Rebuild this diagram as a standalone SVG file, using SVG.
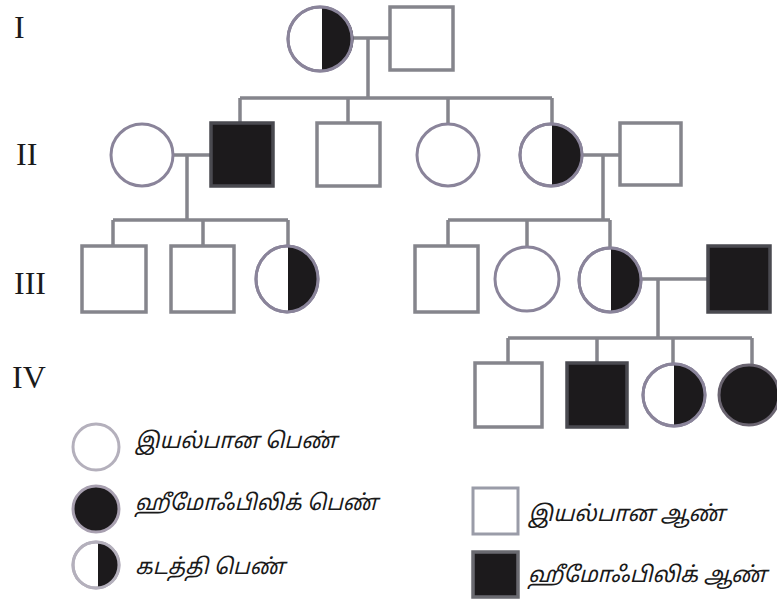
<svg xmlns="http://www.w3.org/2000/svg" width="777" height="599" viewBox="0 0 777 599">
<style>
.ln{stroke:#85858c;stroke-width:3.5;fill:none}
.sq{fill:#ffffff;stroke:#85858c;stroke-width:3.5}
.sqf{fill:#1c1a1c;stroke:#4a4a50;stroke-width:3.5}
.ci{fill:#ffffff;stroke:#8a849a;stroke-width:3}
.cif{fill:#1c1a1c;stroke:#6a6470;stroke-width:3}
.half{fill:#1c1a1c}
.ring{fill:none;stroke:#8a849a;stroke-width:3}
.lci{fill:#ffffff;stroke:#b4b0bc;stroke-width:3}
.lring{fill:none;stroke:#b4b0bc;stroke-width:3}
.lsq{fill:#ffffff;stroke:#9a9ca8;stroke-width:3}
.gen{font-family:"Liberation Serif",serif;font-size:32px;fill:#1a1a1a}
.lbl{font-family:"Noto Sans Tamil","Noto Sans","DejaVu Sans",sans-serif;font-style:italic;font-size:22px;fill:#1a1a1a}
</style>
<rect width="777" height="599" fill="#ffffff"/>
<g id="generation-labels">
<text class="gen" x="14" y="38">I</text>
<text class="gen" x="16" y="165">II</text>
<text class="gen" x="14" y="294">III</text>
<text class="gen" x="12" y="388">IV</text>
</g>
<g id="connectors">
<path class="ln" d="M352 38H390M368 38V98M240 98H552M240 98V123M348 98V123M448 98V124M552 98V124"/>
<path class="ln" d="M173 155H211M187 155V220M113 220H288M113 220V246M203 220V246M288 220V247"/>
<path class="ln" d="M582 155H620M603 155V220M448 220H610M448 220V246M527 220V247M610 220V248"/>
<path class="ln" d="M641 279H708M658 279V338M508 338H752M508 338V363M597 338V363M673 338V364M752 338V365"/>
</g>
<g id="I-1"><circle class="ci" cx="320" cy="39" r="32"/><path class="half" d="M322 7.5A31.5 31.5 0 0 1 322 70.5Z"/><circle class="ring" cx="320" cy="39" r="32"/></g>
<g id="I-2"><rect class="sq" x="390" y="7" width="63" height="63"/></g>
<g id="II-1"><circle class="ci" cx="142" cy="155" r="31"/></g>
<g id="II-2"><rect class="sqf" x="211" y="123" width="62" height="63"/></g>
<g id="II-3"><rect class="sq" x="317" y="123" width="63" height="63"/></g>
<g id="II-4"><circle class="ci" cx="448" cy="155" r="31"/></g>
<g id="II-5"><circle class="ci" cx="551" cy="155" r="31"/><path class="half" d="M552 124.5A30.5 30.5 0 0 1 552 185.5Z"/><circle class="ring" cx="551" cy="155" r="31"/></g>
<g id="II-6"><rect class="sq" x="620" y="123" width="61" height="62"/></g>
<g id="III-1"><rect class="sq" x="82" y="246" width="64" height="66"/></g>
<g id="III-2"><rect class="sq" x="171" y="246" width="63" height="66"/></g>
<g id="III-3"><ellipse class="ci" cx="287" cy="279" rx="31" ry="33"/><path class="half" d="M288 246.5A30.5 32.5 0 0 1 288 311.5Z"/><ellipse class="ring" cx="287" cy="279" rx="31" ry="33"/></g>
<g id="III-4"><rect class="sq" x="415" y="246" width="63" height="66"/></g>
<g id="III-5"><ellipse class="ci" cx="527" cy="279" rx="32" ry="32"/></g>
<g id="III-6"><ellipse class="ci" cx="610" cy="280" rx="31" ry="32"/><path class="half" d="M611 248.5A30.5 31.5 0 0 1 611 311.5Z"/><ellipse class="ring" cx="610" cy="280" rx="31" ry="32"/></g>
<g id="III-7"><rect class="sqf" x="708" y="246" width="62" height="66"/></g>
<g id="IV-1"><rect class="sq" x="475" y="363" width="67" height="64"/></g>
<g id="IV-2"><rect class="sqf" x="567" y="363" width="60" height="64"/></g>
<g id="IV-3"><circle class="ci" cx="674" cy="395" r="31"/><path class="half" d="M674 364.5A30.5 30.5 0 0 1 674 425.5Z"/><circle class="ring" cx="674" cy="395" r="31"/></g>
<g id="IV-4"><circle class="cif" cx="749" cy="395" r="30"/></g>
<g id="legend">
<circle class="lci" cx="96" cy="447" r="23"/>
<text class="lbl" x="135" y="448" textLength="202" lengthAdjust="spacingAndGlyphs">இயல்பான பெண்</text>
<circle class="cif" cx="96" cy="509" r="23" style="stroke:#a8a0b0"/>
<text class="lbl" x="135" y="510" textLength="243" lengthAdjust="spacingAndGlyphs">ஹீமோஃபிலிக் பெண்</text>
<circle class="lci" cx="96" cy="565" r="23"/><path class="half" d="M98 543A22 22 0 0 1 98 587Z"/><circle class="lring" cx="96" cy="565" r="23"/>
<text class="lbl" x="135" y="574" textLength="150" lengthAdjust="spacingAndGlyphs">கடத்தி பெண்</text>
<rect class="lsq" x="473" y="488" width="45" height="46"/>
<text class="lbl" x="528" y="521" textLength="197" lengthAdjust="spacingAndGlyphs">இயல்பான ஆண்</text>
<rect class="sqf" x="473" y="552" width="45" height="45" style="stroke:#6a6a70"/>
<text class="lbl" x="528" y="582" textLength="239" lengthAdjust="spacingAndGlyphs">ஹீமோஃபிலிக் ஆண்</text>
</g>
</svg>
